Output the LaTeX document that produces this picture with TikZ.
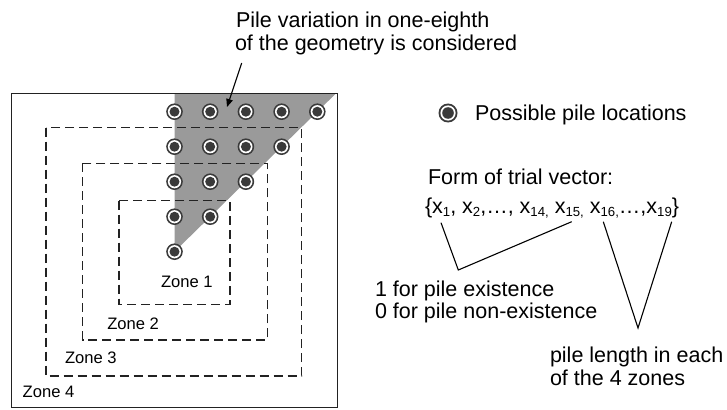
\documentclass[tikz,border=0pt]{standalone}
\usepackage{fontspec}
\setmainfont{Liberation Sans}
\usetikzlibrary{arrows.meta}
\definecolor{trigray}{HTML}{9A9A9A}
\definecolor{piledark}{HTML}{3A3A3A}
\definecolor{lineclr}{HTML}{222222}
\newcommand\sbs[1]{\raisebox{-0.28ex}{\fontsize{13.2}{12}\selectfont #1}}
\begin{document}
\begin{tikzpicture}[x=1pt,y=-1pt,
  pile/.style={circle,inner sep=0pt,outer sep=0pt,minimum size=16.6pt,fill=piledark,
    path picture={\fill[white] (path picture bounding box.center) circle (6.6pt);
                  \fill[piledark] (path picture bounding box.center) circle (5pt);}},
  pilebig/.style={circle,inner sep=0pt,outer sep=0pt,minimum size=19pt,fill=piledark,
    path picture={\fill[white] (path picture bounding box.center) circle (7.6pt);
                  \fill[piledark] (path picture bounding box.center) circle (5.8pt);}},
  zonebox/.style={draw=lineclr,line width=1.2pt,dash pattern=on 9pt off 5pt},
  frame/.style={draw=lineclr,line width=1.2pt},
  conn/.style={draw=black,line width=1.1pt},
  txt/.style={anchor=base west,inner sep=0pt,outer sep=0pt,font=\fontsize{21.5}{24}\selectfont},
  zonetxt/.style={anchor=base west,inner sep=0pt,outer sep=0pt,font=\fontsize{16.6}{20}\selectfont}]
\path[use as bounding box] (0,0) rectangle (727,409);

% shaded one-eighth region
\fill[trigray] (174.5,93.3) -- (336.1,93.3) -- (174.5,251.7) -- cycle;

% outer boundary and zone boundaries
\draw[frame] (11.3,93.3) rectangle (337.7,407.3);
\draw[zonebox] (46,127.7) rectangle (301.7,376);
\draw[zonebox] (82.7,163.3) rectangle (267.3,340);
\draw[zonebox] (119,200.7) rectangle (230,304.3);

% possible pile locations
\foreach \r in {0,...,4}{
  \pgfmathtruncatemacro\nmax{4-\r}
  \foreach \c in {0,...,\nmax}{
    \node[pile] (p\r\c) at ({174.5+35.7*\c},{111.7+35*\r}) {};
  }
}

% zone labels
\node[zonetxt] (z1) at (161,287.7) {Zone 1};
\node[zonetxt] (z2) at (107.3,329.8) {Zone 2};
\node[zonetxt] (z3) at (65,363.5) {Zone 3};
\node[zonetxt] (z4) at (22.7,397.8) {Zone 4};

% top annotation
\node[txt] (t1) at (236,27.3) {Pile variation in one-eighth};
\node[txt] (t2) at (235,50.7) {of the geometry is considered};
\coordinate (arrs) at (241.7,63);
\coordinate (arre) at (227,107);
\draw[conn,-{Triangle[length=8pt,width=6.5pt]}] (arrs) -- (arre);

% legend
\node[pilebig] (legc) at (448,113) {};
\node[txt] (leg) at (475,121) {Possible pile locations};

% trial vector
\node[txt] (form) at (428,184) {Form of trial vector:};
\node[txt] (vec) at (425,213.3) {\{x\sbs{1}, x\sbs{2},\ldots, x\sbs{14,} x\sbs{15,} x\sbs{16,}\ldots,x\sbs{19}\}};

\coordinate (a1) at (441,222.7);
\coordinate (a2) at (458.3,270);
\coordinate (a3) at (571.7,221.7);
\draw[conn] (a1) -- (a2) -- (a3);
\coordinate (b1) at (603.3,221.7);
\coordinate (b2) at (638,328);
\coordinate (b3) at (671.7,221.7);
\draw[conn] (b1) -- (b2) -- (b3);

\node[txt] (e1) at (375,296.7) {1 for pile existence};
\node[txt] (e0) at (375,318.3) {0 for pile non-existence};
\node[txt] (pl1) at (550,362) {pile length in each};
\node[txt] (pl2) at (550,385) {of the 4 zones};
\end{tikzpicture}
\end{document}
